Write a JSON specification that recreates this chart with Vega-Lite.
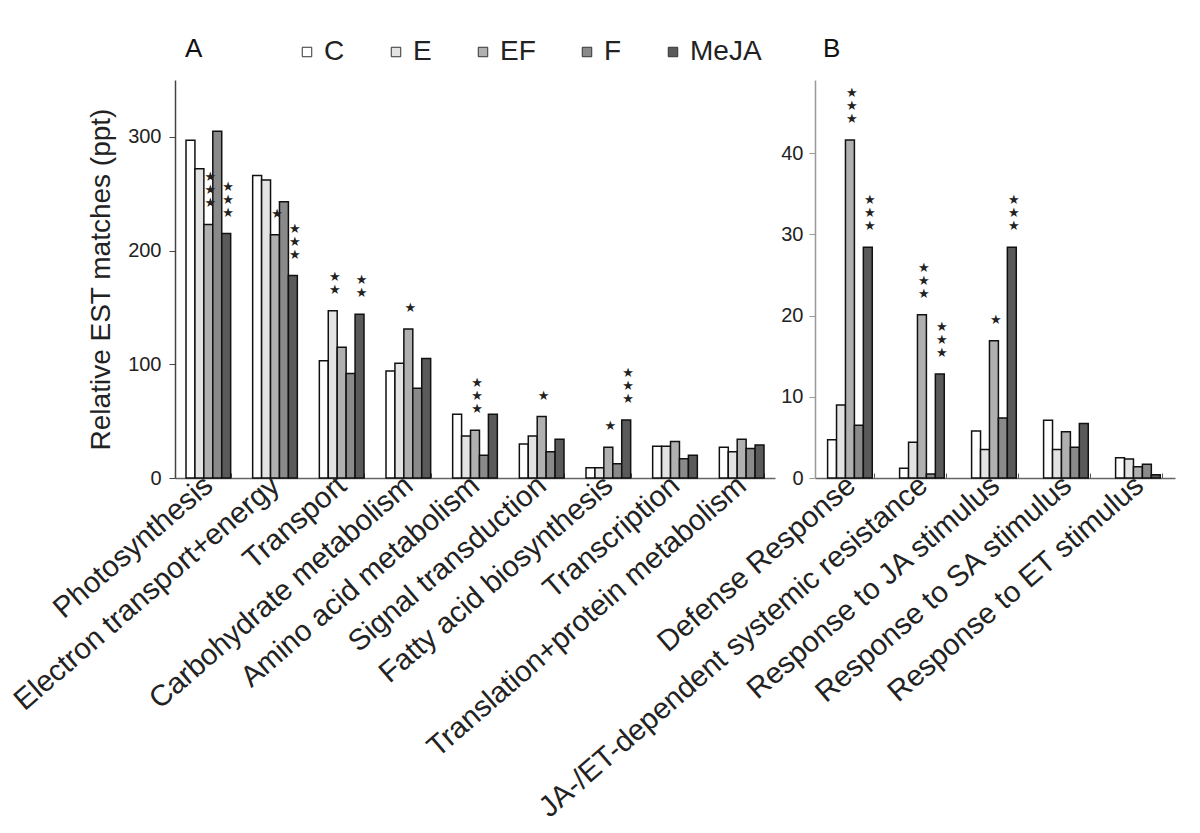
{
  "$schema": "https://vega.github.io/schema/vega-lite/v6.json",
  "padding": {"left": 8, "top": 36, "right": 5, "bottom": 5},
  "background": "white",
  "bounds": "flush",
  "spacing": 40,
  "config": {"view": {"stroke": null}, "font": "Liberation Sans"},
  "resolve": {"scale": {"color": "shared"}},
  "datasets": {
    "A": [
      {"cat": "Photosynthesis", "trt": "C", "v": 297, "sig": ""},
      {"cat": "Photosynthesis", "trt": "E", "v": 272, "sig": ""},
      {"cat": "Photosynthesis", "trt": "EF", "v": 223, "sig": "★\n★\n★"},
      {"cat": "Photosynthesis", "trt": "F", "v": 305, "sig": ""},
      {"cat": "Photosynthesis", "trt": "MeJA", "v": 215, "sig": "★\n★\n★"},
      {"cat": "Electron transport+energy", "trt": "C", "v": 266, "sig": ""},
      {"cat": "Electron transport+energy", "trt": "E", "v": 262, "sig": ""},
      {"cat": "Electron transport+energy", "trt": "EF", "v": 214, "sig": "★"},
      {"cat": "Electron transport+energy", "trt": "F", "v": 243, "sig": ""},
      {"cat": "Electron transport+energy", "trt": "MeJA", "v": 178, "sig": "★\n★\n★"},
      {"cat": "Transport", "trt": "C", "v": 103, "sig": ""},
      {"cat": "Transport", "trt": "E", "v": 147, "sig": "★\n★"},
      {"cat": "Transport", "trt": "EF", "v": 115, "sig": ""},
      {"cat": "Transport", "trt": "F", "v": 92, "sig": ""},
      {"cat": "Transport", "trt": "MeJA", "v": 144, "sig": "★\n★"},
      {"cat": "Carbohydrate metabolism", "trt": "C", "v": 94, "sig": ""},
      {"cat": "Carbohydrate metabolism", "trt": "E", "v": 101, "sig": ""},
      {"cat": "Carbohydrate metabolism", "trt": "EF", "v": 131, "sig": "★"},
      {"cat": "Carbohydrate metabolism", "trt": "F", "v": 79, "sig": ""},
      {"cat": "Carbohydrate metabolism", "trt": "MeJA", "v": 105, "sig": ""},
      {"cat": "Amino acid metabolism", "trt": "C", "v": 56, "sig": ""},
      {"cat": "Amino acid metabolism", "trt": "E", "v": 37, "sig": ""},
      {"cat": "Amino acid metabolism", "trt": "EF", "v": 42, "sig": "★\n★\n★"},
      {"cat": "Amino acid metabolism", "trt": "F", "v": 20, "sig": ""},
      {"cat": "Amino acid metabolism", "trt": "MeJA", "v": 56, "sig": ""},
      {"cat": "Signal transduction", "trt": "C", "v": 30, "sig": ""},
      {"cat": "Signal transduction", "trt": "E", "v": 37, "sig": ""},
      {"cat": "Signal transduction", "trt": "EF", "v": 54, "sig": "★"},
      {"cat": "Signal transduction", "trt": "F", "v": 23, "sig": ""},
      {"cat": "Signal transduction", "trt": "MeJA", "v": 34, "sig": ""},
      {"cat": "Fatty acid biosynthesis", "trt": "C", "v": 9, "sig": ""},
      {"cat": "Fatty acid biosynthesis", "trt": "E", "v": 9, "sig": ""},
      {"cat": "Fatty acid biosynthesis", "trt": "EF", "v": 27, "sig": "★"},
      {"cat": "Fatty acid biosynthesis", "trt": "F", "v": 12.6, "sig": ""},
      {"cat": "Fatty acid biosynthesis", "trt": "MeJA", "v": 51, "sig": "★\n★\n★"},
      {"cat": "Transcription", "trt": "C", "v": 28, "sig": ""},
      {"cat": "Transcription", "trt": "E", "v": 28, "sig": ""},
      {"cat": "Transcription", "trt": "EF", "v": 32, "sig": ""},
      {"cat": "Transcription", "trt": "F", "v": 17, "sig": ""},
      {"cat": "Transcription", "trt": "MeJA", "v": 20, "sig": ""},
      {"cat": "Translation+protein metabolism", "trt": "C", "v": 27, "sig": ""},
      {"cat": "Translation+protein metabolism", "trt": "E", "v": 23, "sig": ""},
      {"cat": "Translation+protein metabolism", "trt": "EF", "v": 34, "sig": ""},
      {"cat": "Translation+protein metabolism", "trt": "F", "v": 26, "sig": ""},
      {"cat": "Translation+protein metabolism", "trt": "MeJA", "v": 29, "sig": ""}
    ],
    "B": [
      {"cat": "Defense Response", "trt": "C", "v": 4.7, "sig": ""},
      {"cat": "Defense Response", "trt": "E", "v": 9.0, "sig": ""},
      {"cat": "Defense Response", "trt": "EF", "v": 41.6, "sig": "★\n★\n★"},
      {"cat": "Defense Response", "trt": "F", "v": 6.5, "sig": ""},
      {"cat": "Defense Response", "trt": "MeJA", "v": 28.4, "sig": "★\n★\n★"},
      {"cat": "JA-/ET-dependent systemic resistance", "trt": "C", "v": 1.2, "sig": ""},
      {"cat": "JA-/ET-dependent systemic resistance", "trt": "E", "v": 4.4, "sig": ""},
      {"cat": "JA-/ET-dependent systemic resistance", "trt": "EF", "v": 20.1, "sig": "★\n★\n★"},
      {"cat": "JA-/ET-dependent systemic resistance", "trt": "F", "v": 0.5, "sig": ""},
      {"cat": "JA-/ET-dependent systemic resistance", "trt": "MeJA", "v": 12.8, "sig": "★\n★\n★"},
      {"cat": "Response to JA stimulus", "trt": "C", "v": 5.8, "sig": ""},
      {"cat": "Response to JA stimulus", "trt": "E", "v": 3.5, "sig": ""},
      {"cat": "Response to JA stimulus", "trt": "EF", "v": 16.9, "sig": "★"},
      {"cat": "Response to JA stimulus", "trt": "F", "v": 7.4, "sig": ""},
      {"cat": "Response to JA stimulus", "trt": "MeJA", "v": 28.4, "sig": "★\n★\n★"},
      {"cat": "Response to SA stimulus", "trt": "C", "v": 7.1, "sig": ""},
      {"cat": "Response to SA stimulus", "trt": "E", "v": 3.5, "sig": ""},
      {"cat": "Response to SA stimulus", "trt": "EF", "v": 5.7, "sig": ""},
      {"cat": "Response to SA stimulus", "trt": "F", "v": 3.8, "sig": ""},
      {"cat": "Response to SA stimulus", "trt": "MeJA", "v": 6.7, "sig": ""},
      {"cat": "Response to ET stimulus", "trt": "C", "v": 2.5, "sig": ""},
      {"cat": "Response to ET stimulus", "trt": "E", "v": 2.35, "sig": ""},
      {"cat": "Response to ET stimulus", "trt": "EF", "v": 1.4, "sig": ""},
      {"cat": "Response to ET stimulus", "trt": "F", "v": 1.7, "sig": ""},
      {"cat": "Response to ET stimulus", "trt": "MeJA", "v": 0.4, "sig": ""}
    ]
  },
  "hconcat": [
    {
      "width": 600,
      "height": 398,
      "data": {"name": "A"},
      "title": {"text": "A", "anchor": "start", "frame": "group", "fontSize": 26, "fontWeight": "normal", "offset": 18, "dx": 10, "color": "#111"},
      "encoding": {
        "x": {
          "field": "cat", "type": "nominal",
          "sort": ["Photosynthesis", "Electron transport+energy", "Transport", "Carbohydrate metabolism", "Amino acid metabolism", "Signal transduction", "Fatty acid biosynthesis", "Transcription", "Translation+protein metabolism"],
          "scale": {"paddingInner": 0.33, "paddingOuter": 0.165},
          "axis": {"title": null, "labelAngle": -41, "labelAlign": "right", "labelBaseline": "middle", "labelFontSize": 29.5, "labelLimit": 800, "labelColor": "#222", "labelPadding": 8, "tickBand": "extent", "tickSize": -5, "tickColor": "#555", "domainColor": "#666", "domainWidth": 1.5}
        },
        "xOffset": {"field": "trt", "type": "nominal", "sort": ["C", "E", "EF", "F", "MeJA"], "scale": {"paddingInner": 0, "paddingOuter": 0}},
        "y": {
          "field": "v", "type": "quantitative",
          "scale": {"domain": [0, 350], "nice": false},
          "axis": {"values": [0, 100, 200, 300], "grid": false, "tickSize": 6, "labelFontSize": 20, "labelPadding": 8, "labelColor": "#222", "domainColor": "#444", "domainWidth": 1.5, "tickColor": "#444", "title": "Relative EST matches (ppt)", "titleFontSize": 28, "titleFontWeight": "normal", "titleColor": "#222", "titlePadding": 12}
        }
      },
      "layer": [
        {
          "mark": {"type": "bar", "stroke": "#111", "strokeWidth": 1.5},
          "encoding": {
            "color": {
              "field": "trt", "type": "nominal",
              "scale": {"domain": ["C", "E", "EF", "F", "MeJA"], "range": ["#ffffff", "#e3e3e3", "#b0b0b0", "#8a8a8a", "#5a5a5a"]},
              "legend": {"orient": "none", "legendX": 118, "legendY": -42, "direction": "horizontal", "columns": 5, "gridAlign": "none", "title": null, "symbolType": "square", "symbolSize": 90, "symbolStrokeColor": "#333", "symbolStrokeWidth": 1, "labelFontSize": 28, "labelOffset": 3, "columnPadding": 37, "labelColor": "#222"}
            }
          }
        },
        {
          "transform": [{"filter": "datum.sig == '★'"}],
          "mark": {"type": "text", "font": "DejaVu Sans", "fontSize": 13, "lineBreak": "\n", "lineHeight": 13, "baseline": "bottom", "dy": -14, "dx": 2, "color": "#222"},
          "encoding": {"text": {"field": "sig"}}
        },
        {
          "transform": [{"filter": "datum.sig == '★\\n★'"}],
          "mark": {"type": "text", "font": "DejaVu Sans", "fontSize": 13, "lineBreak": "\n", "lineHeight": 13, "baseline": "bottom", "dy": -27, "dx": 2, "color": "#222"},
          "encoding": {"text": {"field": "sig"}}
        },
        {
          "transform": [{"filter": "datum.sig == '★\\n★\\n★'"}],
          "mark": {"type": "text", "font": "DejaVu Sans", "fontSize": 13, "lineBreak": "\n", "lineHeight": 13, "baseline": "bottom", "dy": -40, "dx": 2, "color": "#222"},
          "encoding": {"text": {"field": "sig"}}
        }
      ]
    },
    {
      "width": 360,
      "height": 398,
      "data": {"name": "B"},
      "title": {"text": "B", "anchor": "start", "frame": "group", "fontSize": 26, "fontWeight": "normal", "offset": 18, "dx": 8, "color": "#111"},
      "encoding": {
        "x": {
          "field": "cat", "type": "nominal",
          "sort": ["Defense Response", "JA-/ET-dependent systemic resistance", "Response to JA stimulus", "Response to SA stimulus", "Response to ET stimulus"],
          "scale": {"paddingInner": 0.35, "paddingOuter": 0.175},
          "axis": {"title": null, "labelAngle": -41, "labelAlign": "right", "labelBaseline": "middle", "labelFontSize": 29.5, "labelLimit": 800, "labelColor": "#222", "labelPadding": 8, "tickBand": "extent", "tickSize": -5, "tickColor": "#555", "domainColor": "#666", "domainWidth": 1.5}
        },
        "xOffset": {"field": "trt", "type": "nominal", "sort": ["C", "E", "EF", "F", "MeJA"], "scale": {"paddingInner": 0, "paddingOuter": 0}},
        "y": {
          "field": "v", "type": "quantitative",
          "scale": {"domain": [0, 49], "nice": false},
          "axis": {"values": [0, 10, 20, 30, 40], "grid": false, "tickSize": 6, "labelFontSize": 20, "labelPadding": 6, "labelColor": "#222", "domainColor": "#999", "domainWidth": 1.5, "tickColor": "#999", "title": null}
        }
      },
      "layer": [
        {
          "mark": {"type": "bar", "stroke": "#111", "strokeWidth": 1.5},
          "encoding": {
            "color": {
              "field": "trt", "type": "nominal",
              "scale": {"domain": ["C", "E", "EF", "F", "MeJA"], "range": ["#ffffff", "#e3e3e3", "#b0b0b0", "#8a8a8a", "#5a5a5a"]},
              "legend": {"orient": "none", "legendX": 118, "legendY": -42, "direction": "horizontal", "columns": 5, "gridAlign": "none", "title": null, "symbolType": "square", "symbolSize": 90, "symbolStrokeColor": "#333", "symbolStrokeWidth": 1, "labelFontSize": 28, "labelOffset": 3, "columnPadding": 37, "labelColor": "#222"}
            }
          }
        },
        {
          "transform": [{"filter": "datum.sig == '★'"}],
          "mark": {"type": "text", "font": "DejaVu Sans", "fontSize": 13, "lineBreak": "\n", "lineHeight": 13, "baseline": "bottom", "dy": -14, "dx": 2, "color": "#222"},
          "encoding": {"text": {"field": "sig"}}
        },
        {
          "transform": [{"filter": "datum.sig == '★\\n★\\n★'"}],
          "mark": {"type": "text", "font": "DejaVu Sans", "fontSize": 13, "lineBreak": "\n", "lineHeight": 13, "baseline": "bottom", "dy": -40, "dx": 2, "color": "#222"},
          "encoding": {"text": {"field": "sig"}}
        }
      ]
    }
  ]
}
